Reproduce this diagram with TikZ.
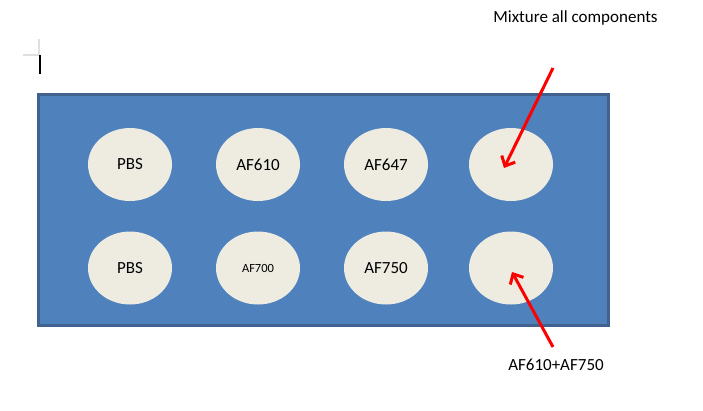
\documentclass[tikz,border=0pt]{standalone}
\usepackage{fontspec}
\setmainfont{Carlito}
\usetikzlibrary{shapes.geometric,arrows.meta}
\definecolor{plate}{HTML}{4F81BD}
\definecolor{plateedge}{HTML}{41628E}
\definecolor{well}{HTML}{EEECE1}
\definecolor{arrowred}{HTML}{FF0000}
\tikzset{
  wellnode/.style={ellipse, fill=well, minimum width=84pt, minimum height=73pt, inner sep=0pt, font=\fontsize{17}{20}\selectfont},
  pointer/.style={draw=arrowred, line width=3pt, -{Straight Barb[length=8pt,width=15pt]}},
  caption/.style={font=\fontsize{17}{20}\selectfont, inner sep=0pt}
}
\begin{document}
\begin{tikzpicture}[x=1pt,y=-1pt]
\useasboundingbox (0,0) rectangle (703,410);
% cursor marks
\draw[gray!25, line width=1.5pt] (39,39) -- (39,55) -- (23,55);
\draw[black, line width=2pt] (40,55) -- (40,74);
% plate
\draw[fill=plate, draw=plateedge, line width=3pt] (38.5,94) rectangle (608,325.5);
% wells
\node[wellnode] (w1) at (130,164.5) {PBS};
\node[wellnode] (w2) at (258,164.5) {AF610};
\node[wellnode] (w3) at (386,164.5) {AF647};
\node[wellnode] (w4) at (511,164.5) {};
\node[wellnode] (w5) at (130,268) {PBS};
\node[wellnode, font=\fontsize{12.5}{14}\selectfont] (w6) at (258,268) {AF700};
\node[wellnode] (w7) at (386,268) {AF750};
\node[wellnode] (w8) at (511,268) {};
% captions
\node[caption] (c1) at (575.5,18) {Mixture all components};
\node[caption] (c2) at (556,365) {AF610+AF750};
\coordinate (a1s) at (553,68);
\coordinate (a1e) at (504,168);
\coordinate (a2s) at (553,347);
\coordinate (a2e) at (512,272);
\draw[pointer] (a1s) -- (a1e);
\draw[pointer] (a2s) -- (a2e);
\end{tikzpicture}
\end{document}
